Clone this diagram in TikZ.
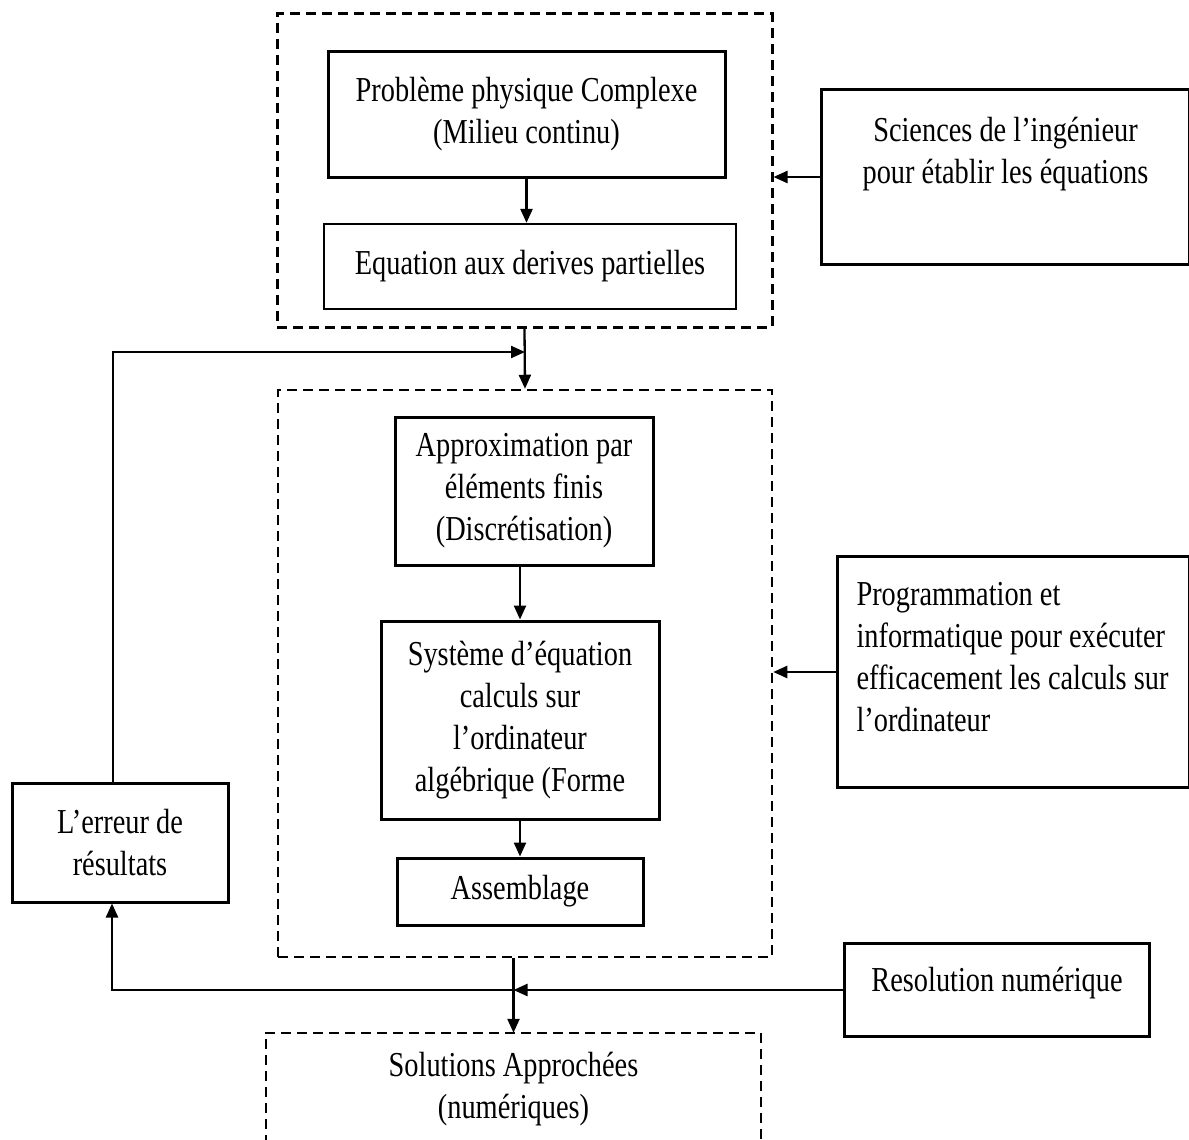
\documentclass[tikz,border=0pt]{standalone}
\usepackage{fontspec}
\setmainfont{Liberation Serif}[FakeStretch=0.81]
\usetikzlibrary{arrows.meta,calc}

\tikzset{
  blk/.style={draw, line width=3pt, align=center, inner sep=0pt},
  grp/.style={draw, line width=3pt, dash pattern=on 10pt off 6pt},
  flow/.style={line width=2.3pt, -{Triangle[length=14pt,width=12pt]}}
}

\begin{document}
\begin{tikzpicture}[x=1pt,y=1pt,yscale=-1,xscale=1, every node/.style={font=\fontsize{35}{42}\selectfont}]
\useasboundingbox (0,0) rectangle (1189,1140);

%Shape: Dashed frames
\node[grp, minimum width=495, minimum height=313] (top) at (524.5,170.5) {};
\node[grp, line width=2.5pt, minimum width=494, minimum height=567] (mid) at (525,673.5) {};

%Shape: Boxes of the top frame
\node[blk, minimum width=397, minimum height=125] (prob) at (526.5,114.5) {Problème physique Complexe\\(Milieu continu)};
\node[blk, line width=2.2pt, minimum width=412, minimum height=85] (edp) at (530,266.5) {Equation aux derives partielles};

%Shape: Boxes of the middle frame
\node[blk, minimum width=258, minimum height=148] (approx) at (524,491) {Approximation par\\éléments finis\\(Discrétisation)};
\node[blk, minimum width=278, minimum height=198] (syst) at (520,720) {Système d'équation\\calculs sur\\l'ordinateur\\algébrique (Forme};
\node[blk, minimum width=246, minimum height=67] (assem) at (520,891.5) {Assemblage};

%Shape: Side boxes
\node[blk, minimum width=216, minimum height=119] (erreur) at (120,842.5) {L'erreur de\\résultats};
\node[blk, anchor=north west] (sci) at (820,88) {\parbox[c][175pt][t]{368pt}{\centering\vspace*{28pt}Sciences de l'ingénieur\\pour établir les équations}};
\node[blk, anchor=north west] (prog) at (836,555) {\parbox[c][231pt][t]{352pt}{\raggedright\leftskip=19pt\vspace*{26pt}Programmation et\\informatique pour exécuter\\efficacement les calculs sur\\l'ordinateur}};
\node[blk, anchor=north west] (res) at (843,942) {\parbox[c][93pt][t]{305pt}{\centering\vspace*{24pt}Resolution numérique}};

% Text Node, frame open at the bottom
\node[align=center, minimum width=495, minimum height=112] (sol) at (513.5,1089) {Solutions Approchées\\(numériques)};
\draw[grp, line width=2pt] (sol.south west) |- (sol.north east) -- (sol.south east);

%Straight Lines
\coordinate (j1) at (525,352);
\coordinate (j2) at (sol.north |- res.west);
\draw[flow] (prob.south) -- (prob.south |- edp.north);
\draw[flow] (top.south) -- (mid.north);
\draw[flow] ([xshift=-7pt]erreur.north) |- (j1);
\draw[flow] (sci.west) -- (sci.west -| top.east);
\draw[flow] (syst.north |- approx.south) -- (syst.north);
\draw[flow] (syst.south) -- (assem.north);
\draw[flow] (prog.west) -- (prog.west -| mid.east);
\draw[flow] (mid.south -| sol.north) -- (sol.north);
\draw[flow] (res.west) -- (j2);
\draw[flow] (j2) -| ([xshift=-8pt]erreur.south);

\end{tikzpicture}
\end{document}
